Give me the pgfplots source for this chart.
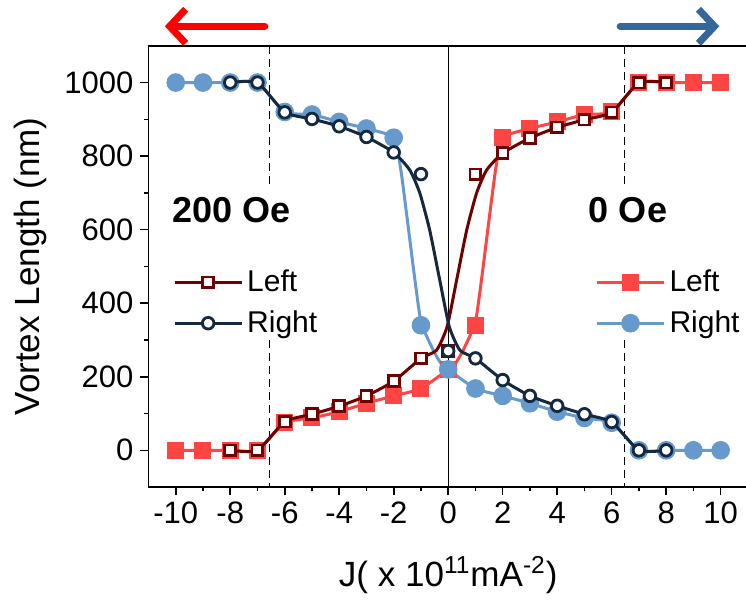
\documentclass[border=0pt]{standalone}
\usepackage{fontspec}
\setmainfont{Liberation Sans}
\usepackage{pgfplots}
\pgfplotsset{compat=1.18}
\usetikzlibrary{arrows.meta}

\definecolor{lred}{RGB}{255,68,68}
\definecolor{lblue}{RGB}{102,153,204}
\definecolor{dred}{RGB}{112,0,0}
\definecolor{navy}{RGB}{20,40,64}
\definecolor{arrblue}{RGB}{51,102,153}

\pgfplotsset{
  base/.style={
    scale only axis, width=299.5pt, height=220.5pt,
    xmin=-11, xmax=11, ymin=-100, ymax=1100,
    clip=false,
    legend style={draw=none, fill=none, inner sep=0pt, row sep=4pt,
      font=\fontsize{15}{18}\selectfont, anchor=west},
    legend cell align=left,
    legend image code/.code={
      \draw[mark repeat=2,mark phase=2] plot coordinates {(0pt,0pt) (16.75pt,0pt) (33.5pt,0pt)};},
  },
  fillsq/.style={lred, line width=1.5pt, mark=square*, mark size=4pt, mark options={line width=0.5pt}},
  fillci/.style={lblue, line width=1.5pt, mark=*, mark size=4.4pt, mark options={line width=0.5pt}},
  opensq/.style={dred, line width=1.5pt, mark=square*, mark size=2.7pt, mark options={fill=white, line width=1.4pt}},
  openci/.style={navy, line width=1.5pt, mark=*, mark size=2.9pt, mark options={fill=white, line width=1.4pt}},
}

\begin{document}
\begin{tikzpicture}
% 0 Oe series, axes, annotations
\begin{axis}[base,
  axis x line*=bottom, axis y line*=left,
  axis line style={line width=0.8pt, -},
  xtick={-10,-8,...,10}, ytick={0,200,...,1000},
  minor x tick num=1, minor y tick num=1,
  tick align=outside,
  major tick length=4pt, minor tick length=2.2pt,
  every tick/.style={black, line width=0.8pt},
  tick label style={font=\fontsize{15.5}{18}\selectfont},
  /pgf/number format/assume math mode=true,
  /pgf/number format/set thousands separator={},
  xlabel={J( x 10\textsuperscript{11}mA\textsuperscript{-2})},
  ylabel={Vortex Length (nm)},
  label style={font=\fontsize{17.5}{20}\selectfont},
  xlabel style={at={(axis cs:0,-100)}, anchor=center, yshift=-44pt},
  ylabel style={at={(axis cs:-15.33,500)}, anchor=center},
  legend style={at={(axis cs:5.39,401)}},
]
\draw[line width=0.8pt] (axis cs:-11,1100) -- (axis cs:11,1100);
\draw[line width=0.6pt] (axis cs:0,-100) -- (axis cs:0,1100);
\draw[line width=0.6pt, dash pattern=on 4pt off 2.5pt] (axis cs:-6.55,1100) -- (axis cs:-6.55,715);
\draw[line width=0.6pt, dash pattern=on 4pt off 2.5pt] (axis cs:-6.55,300) -- (axis cs:-6.55,-100);
\draw[line width=0.6pt, dash pattern=on 4pt off 2.5pt] (axis cs:6.47,1100) -- (axis cs:6.47,715);
\draw[line width=0.6pt, dash pattern=on 4pt off 2.5pt] (axis cs:6.47,300) -- (axis cs:6.47,-100);
\node[font=\bfseries\fontsize{18}{21}\selectfont] at (axis cs:-7.94,653) {200 Oe};
\node[font=\bfseries\fontsize{18}{21}\selectfont] at (axis cs:6.6,653) {0 Oe};
\draw[red, line width=3.5pt, line cap=round, -{Straight Barb[length=8pt,width=17pt]}]
  (axis cs:-6.73,1153) -- (axis cs:-10.4,1153);
\draw[arrblue, line width=3.5pt, line cap=round, -{Straight Barb[length=8pt,width=17pt]}]
  (axis cs:6.31,1153) -- (axis cs:9.95,1153);
\coordinate (bl) at (axis cs:-16.45,-405.4);
\coordinate (tr) at (axis cs:10.93,1224.5);

\addplot[lred, line width=1.5pt, smooth, tension=0.35, forget plot] coordinates {
  (-10,0) (-9,0) (-8,0) (-7,0) (-6,75) (-5,88) (-4,105) (-3,128) (-2,148) (-1,168)
  (0,220) (0.3,240) (0.6,280) (1,350) (1.25,480) (1.5,627) (1.74,763) (2,850)
  (3,875) (4,893) (5,913) (6,920) (7,1000) (8,1000) (9,1000) (10,1000)};
\addplot[fillsq, only marks, forget plot] coordinates {
  (-10,0) (-9,0) (-8,0) (-7,0) (-6,75) (-5,88) (-4,105) (-3,128) (-2,148) (-1,168)
  (0,220) (1,340) (2,850) (3,875) (4,893) (5,913) (6,920) (7,1000) (8,1000) (9,1000) (10,1000)};
\addplot[lblue, line width=1.5pt, smooth, tension=0.35, forget plot] coordinates {
  (-10,1000) (-9,1000) (-8,1000) (-7,1000) (-6,920) (-5,913) (-4,893) (-3,875) (-2,850)
  (-1.74,763) (-1.5,627) (-1.25,480) (-1,350) (-0.6,280) (-0.3,240) (0,220)
  (1,168) (2,148) (3,128) (4,105) (5,88) (6,75) (7,0) (8,0) (9,0) (10,0)};
\addplot[fillci, only marks, forget plot] coordinates {
  (-10,1000) (-9,1000) (-8,1000) (-7,1000) (-6,920) (-5,913) (-4,893) (-3,875) (-2,850)
  (-1,340) (0,220) (1,168) (2,148) (3,128) (4,105) (5,88) (6,75) (7,0) (8,0) (9,0) (10,0)};
\addlegendimage{fillsq}
\addlegendentry{Left}
\addlegendimage{fillci}
\addlegendentry{Right}
\end{axis}

% 200 Oe series
\begin{axis}[base, hide axis,
  legend style={at={(axis cs:-10.11,401)}},
]
\addplot[dred, line width=1.5pt, smooth, tension=0.35, forget plot] coordinates {
  (-8,0) (-7,0) (-6,78) (-5,98) (-4,120) (-3,148) (-2,188) (-1,250)
  (-0.43,272) (-0.04,336) (0.31,463) (0.68,599) (1.04,699) (1.41,762) (2,808)
  (3,849) (4,878) (5,899) (6,919) (7,1000) (8,1000)};
\addplot[opensq, only marks, forget plot] coordinates {
  (-8,0) (-7,0) (-6,78) (-5,98) (-4,120) (-3,148) (-2,188) (-1,250) (0,270)
  (1,750) (2,808) (3,849) (4,878) (5,899) (6,919) (7,1000) (8,1000)};
\addplot[navy, line width=1.5pt, smooth, tension=0.35, forget plot] coordinates {
  (-8,1000) (-7,1000) (-6,919) (-5,901) (-4,881) (-3,852) (-2,810)
  (-1.41,762) (-1.04,699) (-0.68,599) (-0.31,463) (0.04,336) (0.43,272) (1,250)
  (2,191) (3,148) (4,121) (5,98) (6,77) (7,0) (8,0)};
\addplot[openci, only marks, forget plot] coordinates {
  (-8,1000) (-7,1000) (-6,919) (-5,901) (-4,881) (-3,852) (-2,810) (-1,751) (0,270)
  (1,250) (2,191) (3,148) (4,121) (5,98) (6,77) (7,0) (8,0)};
\addlegendimage{opensq}
\addlegendentry{Left}
\addlegendimage{openci}
\addlegendentry{Right}
\end{axis}
\pgfresetboundingbox
\path[use as bounding box] (bl) rectangle (tr);
\end{tikzpicture}
\end{document}
